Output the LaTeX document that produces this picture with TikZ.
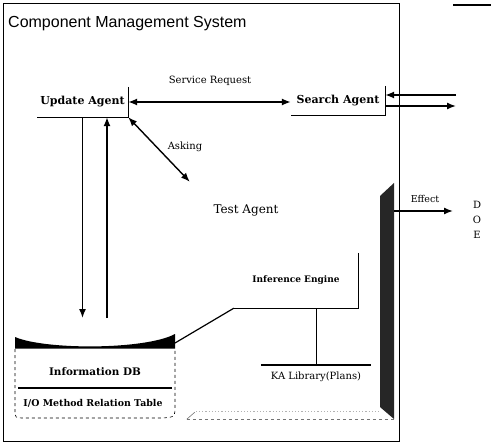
\documentclass[tikz,border=0pt]{standalone}
\usepackage{fontspec}
\setmainfont{DejaVu Serif}
\newfontfamily\titlefont{Liberation Sans}
\usetikzlibrary{arrows.meta,positioning,calc}

\begin{document}
\begin{tikzpicture}[
  x=1pt, y=-1pt,
  font=\fontsize{10}{12}\selectfont,
  agent/.style={inner sep=0pt, font=\bfseries\fontsize{11}{13}\selectfont},
  tag/.style={inner sep=1pt, font=\fontsize{10}{12}\selectfont},
  arrow/.style={-{Latex[length=9pt,width=7pt]}, line width=1.4pt},
  twoway/.style={{Latex[length=9pt,width=7pt]}-{Latex[length=9pt,width=7pt]}, line width=1.4pt},
  edge/.style={line width=0.9pt}
]
\useasboundingbox (0,0) rectangle (497,444);
\draw[line width=1pt] (3,4) rectangle (399,441);
\draw[line width=1.6pt] (453,5) -- (491,5);

\node[anchor=west, inner sep=0pt, font=\titlefont\fontsize{16}{18}\selectfont] (title) at (8,24) {Component Management System};

% agents
\node[agent, minimum width=91pt, minimum height=30pt] (upd) at (82.5,102) {Update Agent};
\node[agent, minimum width=94pt, minimum height=29pt] (srch) at (338,100.5) {Search Agent};
\draw[edge] (upd.north east) -- (upd.south east) -- (upd.south west);
\draw[edge] (srch.north east) -- (srch.south east) -- (srch.south west);

\node[inner sep=0pt, minimum width=192pt, minimum height=231pt] (testbox) at (286,297.5) {};
\node[font=\fontsize{12}{14}\selectfont] (test) at (246,210) {Test Agent};
\fill[black!85] ($(testbox.north east)+(-2,14)$) -- ($(testbox.north east)+(12,1)$)
  -- ($(testbox.south east)+(12,6)$) -- ($(testbox.south east)+(-2,-6)$) -- cycle;
\draw[black!30, dotted, line width=1.2pt] ($(testbox.south west)+(6,-2)$) -- ($(testbox.south east)+(-2,-2)$);
\draw[black!55, dashed, line width=0.6pt] ($(testbox.south west)+(-3,6)$) -- ($(testbox.south east)+(12,6)$);
\draw[black!55, line width=0.6pt] ($(testbox.south west)+(-3,6)$) -- ($(testbox.south west)+(5,-1)$);

\node[agent, font=\bfseries\fontsize{9}{11}\selectfont, minimum width=124pt, minimum height=55pt] (infer) at (296,280.5) {Inference Engine};
\draw[edge] (infer.north east) -- (infer.south east) -- (infer.south west);

\node[tag, minimum width=110pt, minimum height=24pt, inner sep=0pt] (kalib) at (316,377) {KA Library(Plans)};
\draw[line width=1.6pt] (kalib.north west) -- (kalib.north east);
\draw[edge] (kalib.north |- infer.south) -- (kalib.north);

% information db
\fill (15,337) .. controls (45,350) and (145,350) .. (175,334) -- (175,348.5) -- (15,348.5) -- cycle;
\draw[dashed, line width=0.6pt] (15,349) -- (15,410) .. controls (15,418) .. (25,418) -- (163,418)
  .. controls (175,417) .. (175,405) -- (175,349);
\draw[line width=1.4pt] (18,388) -- (172,388);
\node[agent, font=\bfseries\fontsize{10.4}{12}\selectfont] (infodb) at (95,372) {Information DB};
\node[agent, font=\bfseries\fontsize{9.4}{11}\selectfont] (iotable) at (93,403) {I/O Method Relation Table};
\coordinate (dbrim) at (175,343);
\coordinate (dbin1) at (82.5,318);
\coordinate (dbin2) at (107,318);

\node[align=center, inner sep=0pt, font=\fontsize{10}{15}\selectfont] (doe) at (477,220) {D\\O\\E};
\coordinate (outin) at (456,95);
\coordinate (outout) at (456,106);
\coordinate (effsrc) at (394,211);
\coordinate (effend) at (453,211);

\node[tag] (reqlbl) at (210,81) {Service Request};
\node[tag] (asklbl) at (185,147) {Asking};
\node[tag, font=\fontsize{9.5}{11}\selectfont] (efflbl) at (425,199) {Effect};

\draw[twoway] (upd.east) -- (upd.east -| srch.west);
\draw[twoway] (upd.south east) -- (testbox.north west);
\draw[arrow] (upd.south) -- (dbin1);
\draw[arrow] (dbin2) -- (dbin2 |- upd.south);
\draw[arrow] (outin) -- (outin -| srch.east);
\draw[arrow] (outout -| srch.east) -- (outout);
\draw[arrow] (effsrc) -- (effend);
\draw[line width=1.2pt] (dbrim) -- (infer.south west);
\end{tikzpicture}
\end{document}
